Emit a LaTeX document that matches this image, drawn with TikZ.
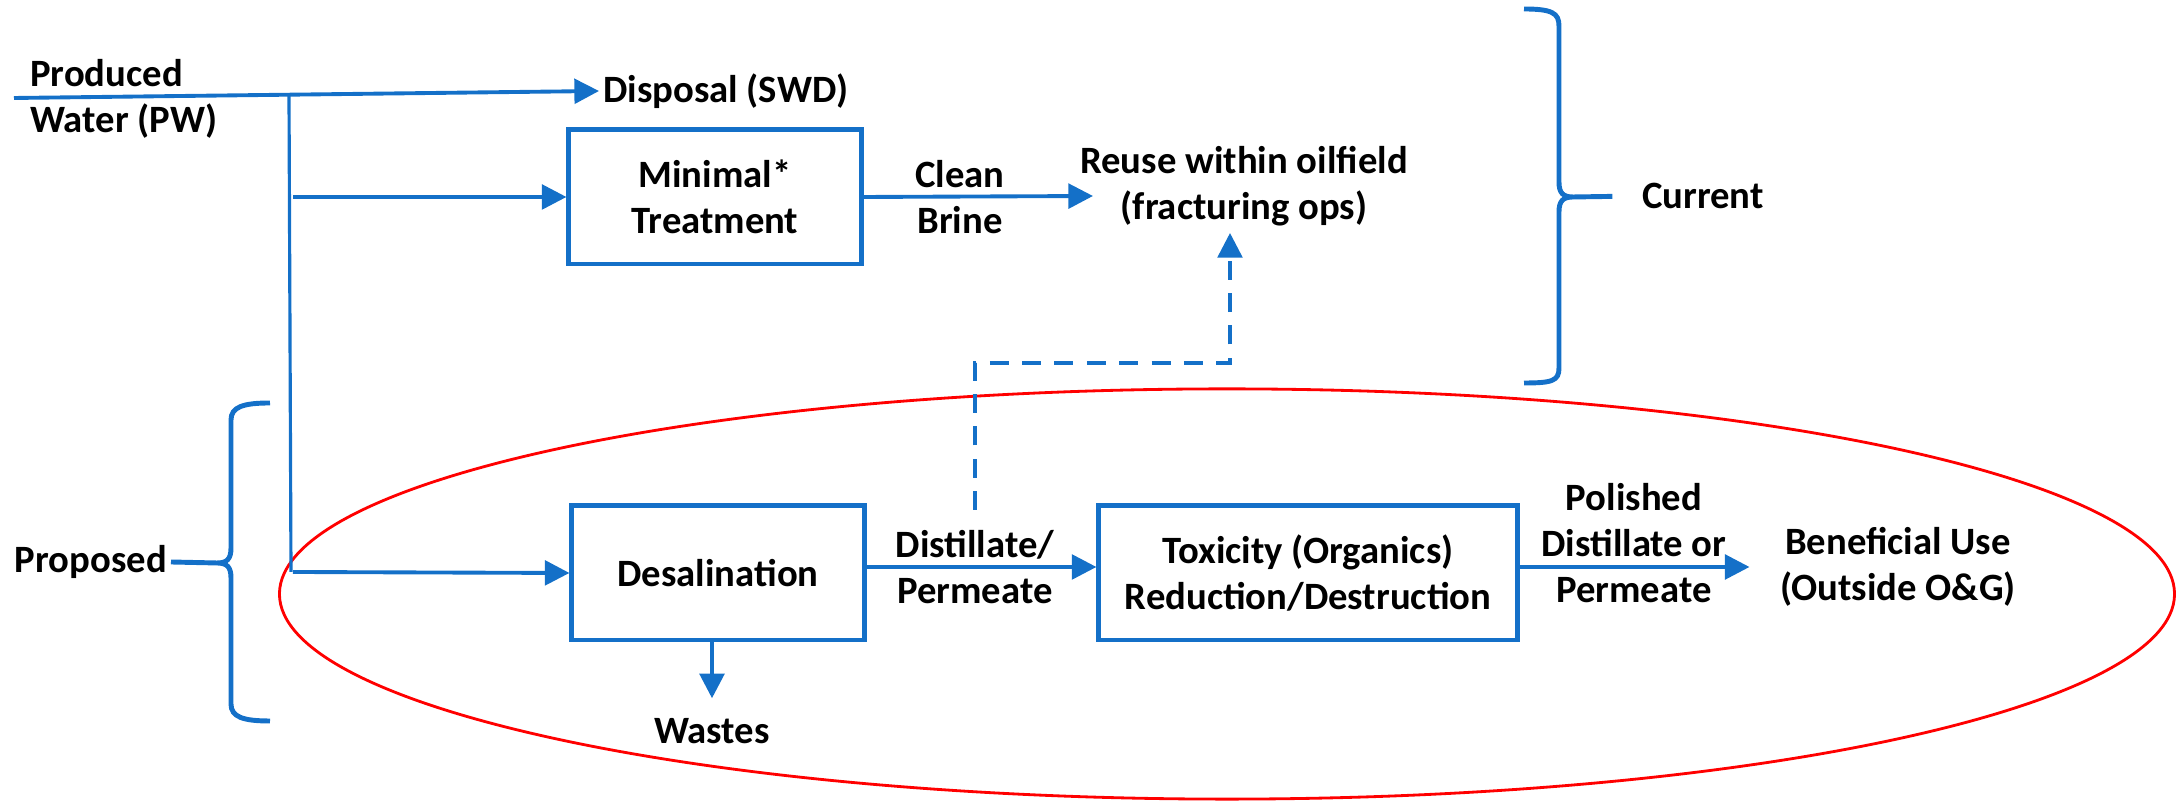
\documentclass[tikz,border=0pt]{standalone}
\usepackage{fontspec}
\setmainfont{Carlito}
\usepackage{xcolor}
\usetikzlibrary{arrows.meta, positioning, calc}
\definecolor{pwblue}{RGB}{20,112,200}

\begin{document}
\begin{tikzpicture}[x=0.01cm, y=-0.01cm,
  every node/.style={font=\bfseries\fontsize{11}{13.2}\selectfont, inner sep=1pt},
  box/.style={draw=pwblue, line width=1.4pt, align=center, minimum width=2.92cm, minimum height=1.34cm},
  lbl/.style={align=center},
  flow/.style={draw=pwblue, line width=1.1pt, -{Triangle[length=7pt, width=7pt]}},
  feed/.style={draw=pwblue, line width=0.9pt},
  dashflow/.style={flow, line width=1pt, dash pattern=on 5.4pt off 3.8pt},
  bracket/.style={draw=pwblue, line width=1.4pt}]
	\useasboundingbox (0,0) rectangle (2177,801);
	% proposed scope
	\draw[red, line width=0.8pt] (1227,594) ellipse [x radius=9.47cm, y radius=2.05cm];

	\node[anchor=west, align=left] (pw) at (26,99) {Produced\\Water (PW)};
	\node[anchor=west] (disp) at (599,91) {Disposal (SWD)};
	\node[box] (mt) at (715,197) {Minimal*\\Treatment};
	\node[lbl] (brine) at (960,197) {Clean\\Brine};
	\node[lbl] (reuse) at (1244,186) {Reuse within oilfield\\(fracturing ops)};
	\node[box] (des) at (718,573) {Desalination};
	\node (wastes) at (712,731) {Wastes};
	\node[lbl] (dst) at (975,567) {Distillate/\\Permeate};
	\node[box, minimum width=4.18cm] (tox) at (1308,573) {Toxicity (Organics)\\Reduction/Destruction};
	\node[lbl] (pol) at (1634,543) {Polished\\Distillate or\\Permeate};
	\node[lbl] (ben) at (1898,567) {Beneficial Use\\(Outside O\&G)};
	\node[anchor=west] (cur) at (1638,196) {Current};
	\node[anchor=east] (prop) at (171,562) {Proposed};

	\coordinate (pwin) at (14,98);
	\coordinate (jn) at (289,95);
	\coordinate (jd) at (291,572);
	\coordinate (jm) at (293,197);
	\coordinate (jb) at (293,572);
	\coordinate (reusein) at (1093,196);
	\coordinate (bend) at (1230,363);
	\coordinate (dashtip) at (1230,233);
	\coordinate (curtip) at (1573,197);
	\coordinate (proptip) at (217,563);

	% PW feed and branches
	\draw[flow] (pwin) -- (disp.west);
	\draw[feed] (jn) -- (jd);
	\draw[flow] (jm) -- (mt.west);
	\draw[flow] (jb) -- (des.west);
	\draw[flow] (mt.east) -- (reusein);
	\draw[flow] (des.south -| wastes) -- ([yshift=4.5pt]wastes.north);
	\draw[flow] (des.east |- dst) -- (tox.west |- dst);
	\draw[flow, shorten >=7.5pt] (tox.east |- ben.west) -- (ben.west);
	\draw[dashflow] ([yshift=4.5pt]dst.north) |- (bend) -- (dashtip);

	% braces
	\draw[bracket] (1524,9) .. controls (1552,9) and (1559,13) .. (1559,26) -- (1559,182)
		.. controls (1559,193) and (1563,197) .. (curtip) .. controls (1563,197) and (1559,201) .. (1559,212)
		-- (1559,368) .. controls (1559,381) and (1552,383) .. (1524,383);
	\draw[bracket, shorten >=7.3pt] (curtip) -- (cur.west);
	\draw[bracket] (270,403) .. controls (243,403) and (231,407) .. (231,420) -- (231,548)
		.. controls (231,559) and (227,563) .. (proptip) .. controls (227,563) and (231,567) .. (231,578)
		-- (231,704) .. controls (231,717) and (243,721) .. (270,721);
	\draw[bracket] (proptip) -- (prop.east);
\end{tikzpicture}
\end{document}
